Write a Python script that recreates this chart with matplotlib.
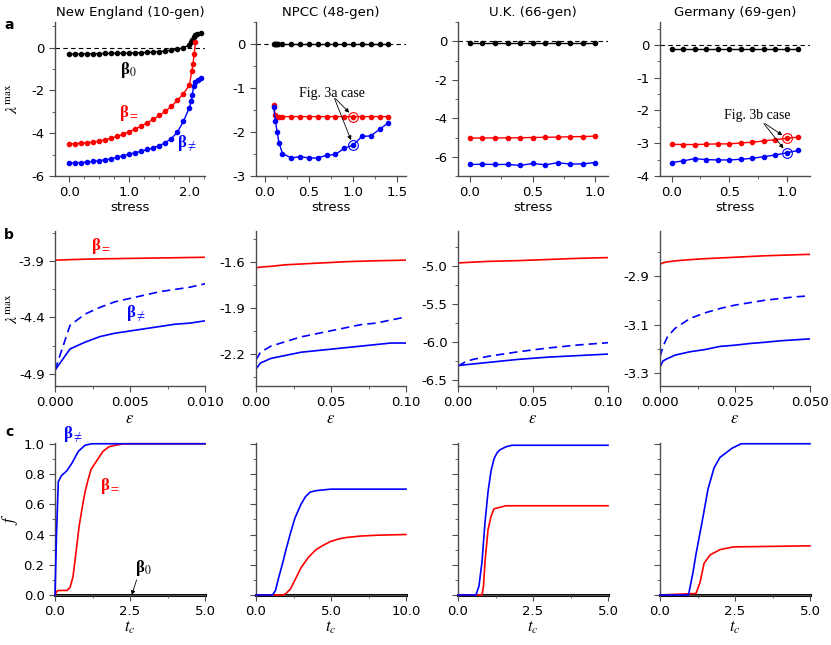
import matplotlib
matplotlib.use('Agg')
import matplotlib.pyplot as plt
from matplotlib.ticker import AutoMinorLocator, FormatStrFormatter

plt.rcParams['font.family'] = ['DejaVu Sans']
plt.rcParams['mathtext.fontset'] = 'stix'
plt.rcParams['font.size'] = 9.5
plt.rcParams['axes.unicode_minus'] = False

RED = '#ff0000'
BLUE = '#0000ff'
SPINE = '0.3'
SERIF = ['Liberation Serif', 'DejaVu Serif']

titles = ['New England (10-gen)', 'NPCC (48-gen)', 'U.K. (66-gen)', 'Germany (69-gen)']

# ---------------- row a : lambda_max vs stress ----------------
ne_x0 = [0.0, 0.1, 0.2, 0.3, 0.4, 0.5, 0.6, 0.7, 0.8, 0.9, 1.0, 1.1, 1.2, 1.3, 1.4,
         1.5, 1.6, 1.7, 1.8, 1.9, 2.0, 2.03, 2.05, 2.07, 2.09, 2.12, 2.2]
ne_b0 = [-0.30, -0.30, -0.29, -0.29, -0.28, -0.28, -0.27, -0.27, -0.26, -0.26, -0.25,
         -0.24, -0.23, -0.22, -0.20, -0.18, -0.16, -0.12, -0.08, 0.0, 0.12, 0.25, 0.38,
         0.50, 0.60, 0.66, 0.68]
ne_xr = [0.0, 0.1, 0.2, 0.3, 0.4, 0.5, 0.6, 0.7, 0.8, 0.9, 1.0, 1.1, 1.2, 1.3, 1.4,
         1.5, 1.6, 1.7, 1.8, 1.9, 2.0, 2.04, 2.06, 2.08, 2.1]
ne_req = [-4.50, -4.49, -4.47, -4.44, -4.41, -4.36, -4.30, -4.23, -4.15, -4.04, -3.92,
          -3.80, -3.66, -3.51, -3.35, -3.17, -2.97, -2.74, -2.47, -2.15, -1.76, -1.10,
          -0.75, -0.30, 0.25]
ne_xb = [0.0, 0.1, 0.2, 0.3, 0.4, 0.5, 0.6, 0.7, 0.8, 0.9, 1.0, 1.1, 1.2, 1.3, 1.4,
         1.5, 1.6, 1.7, 1.8, 1.9, 2.0, 2.03, 2.05, 2.07, 2.1, 2.15, 2.2]
ne_bneq = [-5.39, -5.38, -5.37, -5.35, -5.32, -5.28, -5.24, -5.19, -5.12, -5.05, -4.98,
           -4.91, -4.84, -4.76, -4.68, -4.58, -4.44, -4.25, -3.95, -3.45, -2.80, -2.50,
           -2.20, -1.80, -1.62, -1.52, -1.40]

npcc_x0 = [0.10, 0.11, 0.12, 0.13, 0.14, 0.15, 0.2, 0.3, 0.4, 0.5, 0.6, 0.7, 0.8, 0.9,
           1.0, 1.1, 1.2, 1.3, 1.4]
npcc_b0 = [0.0, 0.0, 0.0, 0.0, 0.0, 0.0, 0.0, 0.0, 0.0, 0.0, 0.0, 0.0, 0.0, 0.0,
           0.0, 0.0, 0.0, 0.0, 0.0]
npcc_x = [0.10, 0.12, 0.14, 0.16, 0.2, 0.3, 0.4, 0.5, 0.6, 0.7, 0.8, 0.9, 1.0, 1.1,
          1.2, 1.3, 1.4]
npcc_req = [-1.38, -1.62, -1.65, -1.65, -1.65, -1.65, -1.65, -1.65, -1.65, -1.65,
            -1.65, -1.65, -1.65, -1.65, -1.65, -1.65, -1.65]
npcc_bneq = [-1.43, -1.74, -2.01, -2.24, -2.49, -2.59, -2.56, -2.59, -2.59, -2.53,
             -2.51, -2.37, -2.30, -2.10, -2.09, -1.94, -1.79]

uk_x = [0.0, 0.1, 0.2, 0.3, 0.4, 0.5, 0.6, 0.7, 0.8, 0.9, 1.0]
uk_b0 = [-0.08, -0.08, -0.08, -0.08, -0.08, -0.08, -0.08, -0.08, -0.08, -0.08, -0.08]
uk_req = [-5.03, -5.03, -5.02, -5.02, -5.01, -5.00, -4.99, -4.98, -4.96, -4.95, -4.93]
uk_bneq = [-6.40, -6.39, -6.40, -6.40, -6.45, -6.35, -6.42, -6.31, -6.38, -6.37, -6.30]

de_x = [0.0, 0.1, 0.2, 0.3, 0.4, 0.5, 0.6, 0.7, 0.8, 0.9, 1.0, 1.1]
de_b0 = [-0.11, -0.11, -0.11, -0.11, -0.11, -0.11, -0.11, -0.11, -0.11, -0.11, -0.11, -0.11]
de_req = [-3.03, -3.04, -3.04, -3.03, -3.02, -3.02, -2.99, -2.97, -2.93, -2.89, -2.85, -2.81]
de_bneq = [-3.59, -3.54, -3.47, -3.50, -3.51, -3.51, -3.49, -3.46, -3.41, -3.36, -3.29, -3.22]

# ---------------- row b : lambda_max vs epsilon ----------------
ne_eps = [0.0, 0.001, 0.002, 0.003, 0.004, 0.005, 0.006, 0.007, 0.008, 0.009, 0.010]
ne_eps_req = [-3.890, -3.885, -3.881, -3.878, -3.876, -3.874, -3.872, -3.870, -3.868,
              -3.866, -3.864]
ne_eps_dash = [-4.87, -4.47, -4.37, -4.31, -4.26, -4.23, -4.20, -4.17, -4.15, -4.13, -4.10]
ne_eps_solid = [-4.87, -4.68, -4.62, -4.57, -4.54, -4.52, -4.50, -4.48, -4.46, -4.45, -4.43]

npcc_eps = [0.0, 0.003, 0.01, 0.02, 0.03, 0.04, 0.05, 0.06, 0.07, 0.08, 0.09, 0.10]
npcc_eps_req = [-1.640, -1.635, -1.630, -1.620, -1.615, -1.610, -1.605, -1.600, -1.597,
                -1.594, -1.592, -1.590]
npcc_eps_dash = [-2.24, -2.19, -2.15, -2.12, -2.09, -2.07, -2.05, -2.03, -2.01, -2.00,
                 -1.98, -1.96]
npcc_eps_solid = [-2.30, -2.26, -2.23, -2.21, -2.19, -2.18, -2.17, -2.16, -2.15, -2.14,
                  -2.13, -2.13]

uk_eps = [0.0, 0.005, 0.01, 0.02, 0.04, 0.06, 0.08, 0.10]
uk_eps_req = [-4.960, -4.955, -4.950, -4.940, -4.930, -4.915, -4.900, -4.890]
uk_eps_dash = [-6.32, -6.26, -6.23, -6.19, -6.13, -6.08, -6.04, -6.01]
uk_eps_solid = [-6.31, -6.30, -6.29, -6.27, -6.23, -6.20, -6.18, -6.16]

de_eps = [0.0, 0.001, 0.0025, 0.005, 0.01, 0.015, 0.02, 0.025, 0.03, 0.035, 0.04, 0.045, 0.05]
de_eps_req = [-2.852, -2.846, -2.842, -2.838, -2.833, -2.829, -2.826, -2.823, -2.820,
              -2.817, -2.815, -2.813, -2.811]
de_eps_dash = [-3.233, -3.190, -3.150, -3.116, -3.075, -3.052, -3.034, -3.020, -3.010,
               -3.000, -2.993, -2.986, -2.982]
de_eps_solid = [-3.274, -3.250, -3.240, -3.226, -3.212, -3.203, -3.190, -3.185, -3.178,
                -3.173, -3.167, -3.163, -3.159]

# ---------------- row c : fraction f vs t_c ----------------
ne_tc_b = [0.0, 0.05, 0.11, 0.22, 0.39, 0.56, 0.78, 1.0, 1.22, 5.0]
ne_f_b = [0.0, 0.40, 0.75, 0.79, 0.82, 0.87, 0.95, 0.99, 1.0, 1.0]
ne_tc_r = [0.0, 0.05, 0.1, 0.4, 0.5, 0.6, 0.7, 0.8, 0.9, 1.0, 1.1, 1.2, 1.4, 1.6, 1.8,
           2.0, 2.3, 5.0]
ne_f_r = [0.0, 0.02, 0.03, 0.03, 0.05, 0.12, 0.28, 0.45, 0.57, 0.68, 0.76, 0.83, 0.89,
          0.95, 0.98, 0.99, 1.0, 1.0]

npcc_tc_b = [0.0, 1.1, 1.3, 1.5, 1.8, 2.0, 2.3, 2.6, 3.0, 3.3, 3.6, 4.0, 5.0, 6.0, 10.0]
npcc_f_b = [0.0, 0.0, 0.03, 0.11, 0.22, 0.30, 0.41, 0.51, 0.60, 0.65, 0.68, 0.69, 0.70,
            0.70, 0.70]
npcc_tc_r = [0.0, 1.8, 2.0, 2.3, 2.6, 3.0, 3.5, 4.0, 4.5, 5.0, 5.5, 6.0, 7.0, 8.0, 10.0]
npcc_f_r = [0.0, 0.0, 0.01, 0.04, 0.10, 0.18, 0.25, 0.30, 0.33, 0.355, 0.37, 0.38, 0.39,
            0.395, 0.40]

uk_tc_b = [0.0, 0.6, 0.7, 0.8, 0.9, 1.0, 1.1, 1.2, 1.3, 1.4, 1.6, 1.8, 5.0]
uk_f_b = [0.0, 0.0, 0.06, 0.22, 0.48, 0.68, 0.82, 0.90, 0.94, 0.96, 0.98, 0.99, 0.99]
uk_tc_r = [0.0, 0.8, 0.85, 0.9, 1.0, 1.1, 1.2, 1.4, 1.6, 5.0]
uk_f_r = [0.0, 0.0, 0.06, 0.22, 0.43, 0.52, 0.57, 0.58, 0.59, 0.59]

de_tc_b = [0.0, 0.95, 1.1, 1.2, 1.4, 1.6, 1.8, 2.0, 2.2, 2.4, 2.7, 5.0]
de_f_b = [0.0, 0.0, 0.15, 0.27, 0.48, 0.70, 0.84, 0.91, 0.94, 0.97, 1.0, 1.0]
de_tc_r = [0.0, 1.2, 1.33, 1.47, 1.67, 2.0, 2.44, 5.0]
de_f_r = [0.0, 0.01, 0.08, 0.21, 0.265, 0.30, 0.318, 0.325]

# layout in pixels
W, H = 831, 645
lefts = [55, 256, 458, 660]
rows = [(22, 176), (231, 386), (443, 595)]

fig = plt.figure(figsize=(W / 100, H / 100), dpi=100)


def make_ax(col, row):
    top, bot = rows[row]
    ax = fig.add_axes([lefts[col] / W, 1 - bot / H, 150 / W, (bot - top) / H])
    ax.spines['top'].set_visible(False)
    ax.spines['right'].set_visible(False)
    for s in ['left', 'bottom']:
        ax.spines[s].set_color(SPINE)
        ax.spines[s].set_linewidth(1.0)
    ax.tick_params(which='both', colors=SPINE, labelcolor='k', labelsize=9.5)
    ax.tick_params(which='major', length=4)
    ax.tick_params(which='minor', length=2.5)
    return ax


mk = dict(marker='o', markersize=3, lw=1.0)
YLAB_X = -0.235

# ===== row a =====
a_data = [
    (ne_x0, ne_b0, ne_xr, ne_req, ne_xb, ne_bneq),
    (npcc_x0, npcc_b0, npcc_x, npcc_req, npcc_x, npcc_bneq),
    (uk_x, uk_b0, uk_x, uk_req, uk_x, uk_bneq),
    (de_x, de_b0, de_x, de_req, de_x, de_bneq),
]
a_xlim = [(-0.24, 2.26), (-0.1, 1.6), (-0.095, 1.1), (-0.1, 1.2)]
a_ylim = [(-6, 1.2), (-3, 0.5), (-7, 1.0), (-4, 0.7)]
a_xticks = [[0, 1, 2], [0, 0.5, 1.0, 1.5], [0, 0.5, 1.0], [0, 0.5, 1.0]]
a_yticks = [[-6, -4, -2, 0], [-3, -2, -1, 0], [-6, -4, -2, 0], [-4, -3, -2, -1, 0]]

axes_a = []
for i in range(4):
    ax = make_ax(i, 0)
    x0, y0, xr, yr, xb, yb = a_data[i]
    ax.axhline(0, color='k', ls='--', lw=0.8, dashes=(4, 3))
    ax.plot(x0, y0, color='k', **mk)
    ax.plot(xr, yr, color=RED, **mk)
    ax.plot(xb, yb, color=BLUE, **mk)
    ax.set_xlim(*a_xlim[i])
    ax.set_ylim(*a_ylim[i])
    ax.set_xticks(a_xticks[i])
    ax.set_yticks(a_yticks[i])
    ax.xaxis.set_major_formatter(FormatStrFormatter('%.1f'))
    ax.yaxis.set_major_formatter(FormatStrFormatter('%d'))
    ax.xaxis.set_minor_locator(AutoMinorLocator(4 if i == 0 else 2))
    ax.yaxis.set_minor_locator(AutoMinorLocator(2))
    ax.set_xlabel('stress', labelpad=1)
    ax.set_title(titles[i], fontsize=9.5, pad=4)
    axes_a.append(ax)

axes_a[0].set_ylabel(r'$\lambda^{\rm max}$', fontsize=11.5)
axes_a[0].yaxis.set_label_coords(YLAB_X, 0.5)

# beta labels row a
ax = axes_a[0]
ax.text(0.98, -1.04, r'β$_0$', color='k', family=SERIF, weight='bold', fontsize=12,
        ha='center', va='center')
ax.text(1.0, -3.04, r'β$_=$', color=RED, family=SERIF, weight='bold', fontsize=12,
        ha='center', va='center')
ax.text(1.96, -4.47, r'β$_{\neq}$', color=BLUE, family=SERIF, weight='bold', fontsize=12,
        ha='center', va='center')

# Fig. 3 case annotations
arrow = dict(arrowstyle='-|>', color='k', lw=0.6, mutation_scale=6, shrinkA=0, shrinkB=4)
ax = axes_a[1]
ax.plot([1.0], [-1.65], 'o', ms=7, mfc='none', mec=RED, mew=0.8)
ax.plot([1.0], [-2.30], 'o', ms=7, mfc='none', mec=BLUE, mew=0.8)
ax.text(0.756, -1.12, 'Fig. 3a case', family=SERIF, fontsize=10, ha='center', va='center')
ax.annotate('', xy=(1.0, -1.65), xytext=(0.80, -1.24), arrowprops=arrow)
ax.annotate('', xy=(1.0, -2.30), xytext=(0.79, -1.24), arrowprops=arrow)

ax = axes_a[3]
ax.plot([1.0], [-2.85], 'o', ms=7, mfc='none', mec=RED, mew=0.8)
ax.plot([1.0], [-3.29], 'o', ms=7, mfc='none', mec=BLUE, mew=0.8)
ax.text(0.74, -2.16, 'Fig. 3b case', family=SERIF, fontsize=10, ha='center', va='center')
ax.annotate('', xy=(1.0, -2.85), xytext=(0.81, -2.40), arrowprops=arrow)
ax.annotate('', xy=(1.0, -3.29), xytext=(0.80, -2.40), arrowprops=arrow)

# ===== row b =====
b_data = [
    (ne_eps, ne_eps_req, ne_eps_dash, ne_eps_solid),
    (npcc_eps, npcc_eps_req, npcc_eps_dash, npcc_eps_solid),
    (uk_eps, uk_eps_req, uk_eps_dash, uk_eps_solid),
    (de_eps, de_eps_req, de_eps_dash, de_eps_solid),
]
b_xlim = [(0, 0.01), (0, 0.1), (0, 0.1), (0, 0.05)]
b_ylim = [(-5.01, -3.63), (-2.41, -1.40), (-6.58, -4.54), (-3.353, -2.715)]
b_xticks = [[0, 0.005, 0.01], [0, 0.05, 0.1], [0, 0.05, 0.1], [0, 0.025, 0.05]]
b_xfmt = ['%.3f', '%.2f', '%.2f', '%.3f']
b_yticks = [[-4.9, -4.4, -3.9], [-2.2, -1.9, -1.6], [-6.5, -6.0, -5.5, -5.0],
            [-3.3, -3.1, -2.9]]

axes_b = []
for i in range(4):
    ax = make_ax(i, 1)
    eps, yr, yd, ys = b_data[i]
    ax.plot(eps, yr, color=RED, lw=1.2)
    ax.plot(eps, yd, color=BLUE, lw=1.2, ls='--', dashes=(5, 3))
    ax.plot(eps, ys, color=BLUE, lw=1.2)
    ax.set_xlim(*b_xlim[i])
    ax.set_ylim(*b_ylim[i])
    ax.set_xticks(b_xticks[i])
    ax.set_yticks(b_yticks[i])
    ax.xaxis.set_major_formatter(FormatStrFormatter(b_xfmt[i]))
    ax.yaxis.set_major_formatter(FormatStrFormatter('%.1f'))
    ax.xaxis.set_minor_locator(AutoMinorLocator(2))
    ax.yaxis.set_minor_locator(AutoMinorLocator(2))
    ax.set_xlabel(r'$\varepsilon$', fontsize=12, labelpad=0)
    axes_b.append(ax)

axes_b[0].set_ylabel(r'$\lambda^{\rm max}$', fontsize=11.5)
axes_b[0].yaxis.set_label_coords(YLAB_X, 0.5)
axes_b[0].text(0.0031, -3.76, r'β$_=$', color=RED, family=SERIF, weight='bold',
               fontsize=12, ha='center', va='center')
axes_b[0].text(0.0054, -4.37, r'β$_{\neq}$', color=BLUE, family=SERIF, weight='bold',
               fontsize=12, ha='center', va='center')

# ===== row c =====
c_data = [
    (ne_tc_b, ne_f_b, ne_tc_r, ne_f_r),
    (npcc_tc_b, npcc_f_b, npcc_tc_r, npcc_f_r),
    (uk_tc_b, uk_f_b, uk_tc_r, uk_f_r),
    (de_tc_b, de_f_b, de_tc_r, de_f_r),
]
c_xmax = [5.0, 10.0, 5.0, 5.0]

axes_c = []
for i in range(4):
    ax = make_ax(i, 2)
    tb, fb, tr, fr = c_data[i]
    ax.plot([0, c_xmax[i]], [0, 0], color='k', lw=2.2, clip_on=False, zorder=1)
    ax.plot(tr, fr, color=RED, lw=1.2, clip_on=False, zorder=3)
    ax.plot(tb, fb, color=BLUE, lw=1.2, clip_on=False, zorder=4)
    ax.set_xlim(0, c_xmax[i])
    ax.set_ylim(0, 1.005)
    ax.set_xticks([0, c_xmax[i] / 2, c_xmax[i]])
    ax.set_yticks([0, 0.2, 0.4, 0.6, 0.8, 1.0])
    ax.xaxis.set_major_formatter(FormatStrFormatter('%.1f'))
    ax.yaxis.set_major_formatter(FormatStrFormatter('%.1f'))
    ax.xaxis.set_minor_locator(AutoMinorLocator(2))
    ax.yaxis.set_minor_locator(AutoMinorLocator(2))
    ax.set_xlabel(r'$t_c$', fontsize=12, labelpad=0)
    if i > 0:
        ax.tick_params(labelleft=False)
    axes_c.append(ax)

axes_c[0].set_ylabel(r'$f$', fontsize=12)
axes_c[0].yaxis.set_label_coords(YLAB_X, 0.5)
ax = axes_c[0]
ax.text(0.61, 1.06, r'β$_{\neq}$', color=BLUE, family=SERIF, weight='bold', fontsize=12,
        ha='center', va='center')
ax.text(1.83, 0.72, r'β$_=$', color=RED, family=SERIF, weight='bold', fontsize=12,
        ha='center', va='center')
ax.text(2.94, 0.18, r'β$_0$', color='k', family=SERIF, weight='bold', fontsize=12,
        ha='center', va='center')
ax.annotate('', xy=(2.56, 0.0), xytext=(2.72, 0.10),
            arrowprops=dict(arrowstyle='-|>', color='k', lw=0.6, mutation_scale=6,
                            shrinkA=0, shrinkB=0))

# panel letters
fig.text(9 / W, 1 - 25 / H, 'a', fontsize=10, weight='bold', ha='center', va='center')
fig.text(9 / W, 1 - 235 / H, 'b', fontsize=10, weight='bold', ha='center', va='center')
fig.text(9 / W, 1 - 432 / H, 'c', fontsize=10, weight='bold', ha='center', va='center')

fig.savefig('out.png', dpi=100)
